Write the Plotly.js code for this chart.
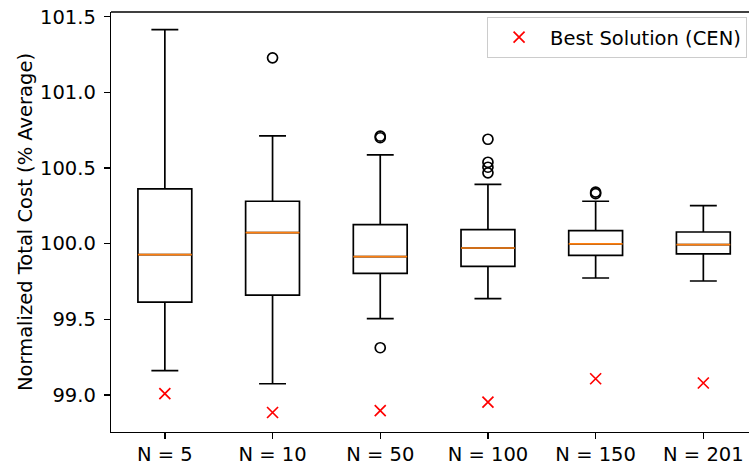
<!DOCTYPE html>
<html>
<head>
<meta charset="utf-8">
<script src="https://cdn.plot.ly/plotly-3.0.1.min.js"></script>
<style>
  html, body { margin: 0; padding: 0; background: #fff; }
  #chart { width: 749px; height: 466px; }
</style>
</head>
<body>
<div id="chart"></div>
<script>
// Population sizes compared in the experiment
const categories = ["N = 5", "N = 10", "N = 50", "N = 100", "N = 150", "N = 201"];
const positions = [1, 2, 3, 4, 5, 6];

// Box statistics of the normalized total cost (% of average)
const lowerWhisker = [99.16, 99.074, 99.504, 99.636, 99.773, 99.753];
const q1Values     = [99.614, 99.66, 99.804, 99.85, 99.923, 99.932];
const medianValues = [99.927, 100.073, 99.914, 99.971, 99.998, 99.993];
const q3Values     = [100.362, 100.28, 100.126, 100.093, 100.086, 100.077];
const upperWhisker = [101.415, 100.712, 100.587, 100.392, 100.28, 100.251];

// Outlying runs (beyond the whiskers), per population size
const outlierGroup = [2, 3, 3, 3, 4, 4, 4, 4, 5, 5];
const outlierValue = [101.228, 100.70, 100.71, 99.312, 100.69, 100.538, 100.505, 100.468, 100.33, 100.34];

// Best solution found by the centralized approach
const bestCEN = [99.008, 98.884, 98.896, 98.953, 99.107, 99.079];

const FONT = "DejaVu Sans, Liberation Sans, sans-serif";
const FS = 19.5;

const traces = [
  {
    type: "box",
    x: positions,
    q1: q1Values,
    median: medianValues,
    q3: q3Values,
    lowerfence: lowerWhisker,
    upperfence: upperWhisker,
    width: 0.5,
    whiskerwidth: 0.5,
    boxpoints: false,
    fillcolor: "rgba(0,0,0,0)",
    line: { color: "#000000", width: 1.7 },
    showlegend: false,
    hoverinfo: "skip"
  },
  {
    // median line drawn in orange over each box
    type: "box",
    x: positions,
    q1: medianValues,
    median: medianValues,
    q3: medianValues,
    lowerfence: medianValues,
    upperfence: medianValues,
    width: 0.5,
    whiskerwidth: 0,
    boxpoints: false,
    fillcolor: "rgba(0,0,0,0)",
    line: { color: "#ff7f0e", width: 1.7 },
    showlegend: false,
    hoverinfo: "skip"
  },
  {
    type: "scatter",
    mode: "markers",
    x: outlierGroup,
    y: outlierValue,
    marker: { symbol: "circle-open", size: 10, color: "#000000", line: { width: 1.7 } },
    showlegend: false,
    hoverinfo: "skip"
  },
  {
    type: "scatter",
    mode: "markers",
    name: "Best Solution (CEN)",
    x: positions,
    y: bestCEN,
    marker: { symbol: "x-thin-open", size: 11, color: "#ff0000", line: { width: 1.7, color: "#ff0000" } },
    hoverinfo: "skip"
  }
];

const layout = {
  width: 749,
  height: 466,
  margin: { l: 111, r: 0, t: 12, b: 34 },
  paper_bgcolor: "#ffffff",
  plot_bgcolor: "#ffffff",
  font: { family: FONT, size: FS, color: "#000000" },
  showlegend: true,
  legend: {
    x: 0.997, xanchor: "right",
    y: 0.988, yanchor: "top",
    itemwidth: 52,
    bgcolor: "rgba(255,255,255,0.8)",
    bordercolor: "#cccccc",
    borderwidth: 1,
    font: { family: FONT, size: FS, color: "#000000" }
  },
  xaxis: {
    range: [0.5, 6.424],
    tickmode: "array",
    tickvals: positions,
    ticktext: categories,
    ticks: "outside",
    ticklen: 6,
    tickwidth: 1.3,
    tickcolor: "#000000",
    ticklabelstandoff: -2,
    showline: true,
    linecolor: "#000000",
    linewidth: 1.3,
    showgrid: false,
    zeroline: false,
    tickfont: { family: FONT, size: FS, color: "#000000" }
  },
  yaxis: {
    range: [98.755, 101.531],
    tickmode: "array",
    tickvals: [99.0, 99.5, 100.0, 100.5, 101.0, 101.5],
    ticktext: ["99.0", "99.5", "100.0", "100.5", "101.0", "101.5"],
    ticks: "outside",
    ticklen: 6,
    tickwidth: 1.3,
    tickcolor: "#000000",
    ticklabelstandoff: 4,
    showline: true,
    linecolor: "#000000",
    linewidth: 1.3,
    showgrid: false,
    zeroline: false,
    tickfont: { family: FONT, size: FS, color: "#000000" },
    title: { text: "Normalized Total Cost (% Average)", font: { family: FONT, size: FS, color: "#000000" }, standoff: 2 }
  },
  shapes: [
    {
      type: "line", xref: "paper", yref: "paper",
      x0: 0, x1: 1, y0: 1, y1: 1,
      line: { color: "#000000", width: 1.3 }
    }
  ]
};

Plotly.newPlot("chart", traces, layout, { staticPlot: true, displayModeBar: false });
</script>
</body>
</html>
